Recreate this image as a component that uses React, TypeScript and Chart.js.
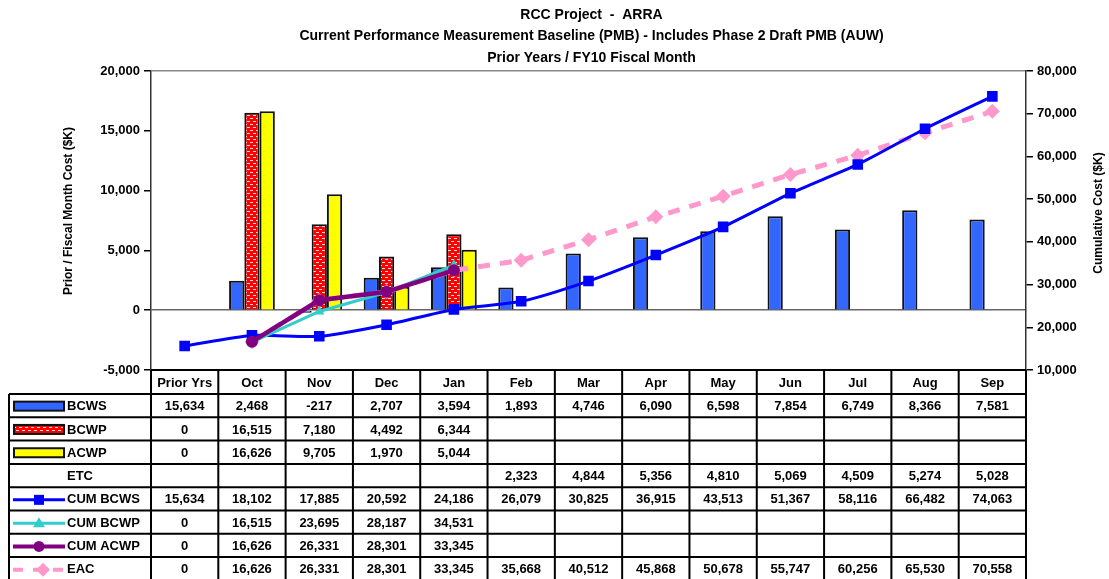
import React, { useEffect, useRef } from "react";
import { Chart, registerables } from "chart.js";

Chart.register(...registerables);

const titleLines = [
  "RCC Project  -  ARRA",
  "Current Performance Measurement Baseline (PMB) - Includes Phase 2 Draft PMB (AUW)",
  "Prior Years / FY10 Fiscal Month",
];
const leftAxisTitle = "Prior / Fiscal Month Cost ($K)";
const rightAxisTitle = "Cumulative Cost ($K)";

const categories = ["Prior Yrs", "Oct", "Nov", "Dec", "Jan", "Feb", "Mar", "Apr", "May", "Jun", "Jul", "Aug", "Sep"];
const bcws = [15634, 2468, -217, 2707, 3594, 1893, 4746, 6090, 6598, 7854, 6749, 8366, 7581];
const bcwp = [0, 16515, 7180, 4492, 6344, null, null, null, null, null, null, null, null];
const acwp = [0, 16626, 9705, 1970, 5044, null, null, null, null, null, null, null, null];
const etc = [null, null, null, null, null, 2323, 4844, 5356, 4810, 5069, 4509, 5274, 5028];
const cumBcws = [15634, 18102, 17885, 20592, 24186, 26079, 30825, 36915, 43513, 51367, 58116, 66482, 74063];
const cumBcwp = [0, 16515, 23695, 28187, 34531, null, null, null, null, null, null, null, null];
const cumAcwp = [0, 16626, 26331, 28301, 33345, null, null, null, null, null, null, null, null];
const eac = [0, 16626, 26331, 28301, 33345, 35668, 40512, 45868, 50678, 55747, 60256, 65530, 70558];

const leftMin = -5000, leftMax = 20000, leftStep = 5000;
const rightMin = 10000, rightMax = 80000, rightStep = 10000;

const FONT = '"Liberation Sans", Arial, sans-serif';
const C_BCWS = "#3366FF";
const C_BCWP = "#FF0000";
const C_ACWP = "#FFFF00";
const C_CBCWS = "#0000FF";
const C_CBCWP = "#33CCCC";
const C_CACWP = "#800080";
const C_EAC = "#FF99CC";

// Prior Yrs column is shown only in the table
const plotted = (arr: (number | null)[]) => arr.map((v, i) => (i === 0 ? null : v));
const fmt = (v: number | null) => (v === null || v === undefined ? "" : v.toLocaleString("en-US"));

function makePattern(): CanvasPattern | string {
  const c = document.createElement("canvas");
  c.width = 6;
  c.height = 6;
  const g = c.getContext("2d");
  if (!g) return C_BCWP;
  g.fillStyle = C_BCWP;
  g.fillRect(0, 0, 6, 6);
  g.fillStyle = "#FFE0E0";
  g.fillRect(1, 1, 3, 1);
  g.fillRect(4, 4, 2, 1);
  g.fillRect(0, 4, 1, 1);
  const p = g.createPattern(c, "repeat");
  return p || C_BCWP;
}

export default function App() {
  const ref = useRef<HTMLCanvasElement | null>(null);

  useEffect(() => {
    document.body.style.margin = "0";
    document.body.style.overflow = "hidden";
    const canvas = ref.current;
    if (!canvas) return;
    const pattern = makePattern();

    const drawMarker = (ctx: CanvasRenderingContext2D, kind: string, x: number, y: number, color: string) => {
      ctx.save();
      ctx.fillStyle = color;
      ctx.beginPath();
      if (kind === "rect") {
        ctx.rect(x - 5, y - 5, 10, 10);
      } else if (kind === "triangle") {
        ctx.moveTo(x, y - 6);
        ctx.lineTo(x + 6, y + 4);
        ctx.lineTo(x - 6, y + 4);
        ctx.closePath();
      } else if (kind === "circle") {
        ctx.arc(x, y, 5.5, 0, Math.PI * 2);
      } else if (kind === "diamond") {
        ctx.moveTo(x, y - 7);
        ctx.lineTo(x + 7, y);
        ctx.lineTo(x, y + 7);
        ctx.lineTo(x - 7, y);
        ctx.closePath();
      }
      ctx.fill();
      ctx.restore();
    };

    const overlay = {
      id: "overlay",
      afterDraw(chart: any) {
        const ctx: CanvasRenderingContext2D = chart.ctx;
        const area = chart.chartArea;
        ctx.save();
        // titles
        ctx.fillStyle = "#000";
        ctx.textAlign = "center";
        ctx.textBaseline = "middle";
        ctx.font = `bold 14px ${FONT}`;
        const cx = (area.left + area.right) / 2 + 3;
        const ys = [15, 36.5, 58];
        titleLines.forEach((t, i) => ctx.fillText(t, cx, ys[i]));

        // axis titles
        ctx.font = `bold 12px ${FONT}`;
        ctx.save();
        ctx.translate(69, 211);
        ctx.rotate(-Math.PI / 2);
        ctx.fillText(leftAxisTitle, 0, 0);
        ctx.restore();
        ctx.save();
        ctx.translate(1099, 213);
        ctx.rotate(-Math.PI / 2);
        ctx.fillText(rightAxisTitle, 0, 0);
        ctx.restore();

        // table
        const n = categories.length;
        const colW = (area.right - area.left) / n;
        const top = area.bottom;
        const headH = 24;
        const rowH = 23.3;
        const tLeft = 9;
        const rows: { label: string; values: (number | null)[]; swatch: string }[] = [
          { label: "BCWS", values: bcws, swatch: "barBlue" },
          { label: "BCWP", values: bcwp, swatch: "barRed" },
          { label: "ACWP", values: acwp, swatch: "barYellow" },
          { label: "ETC", values: etc, swatch: "none" },
          { label: "CUM BCWS", values: cumBcws, swatch: "lineBlue" },
          { label: "CUM BCWP", values: cumBcwp, swatch: "lineTeal" },
          { label: "CUM ACWP", values: cumAcwp, swatch: "linePurple" },
          { label: "EAC", values: eac, swatch: "linePink" },
        ];
        const dataTop = top + headH;
        const bottom = dataTop + rows.length * rowH;

        ctx.font = `bold 13px ${FONT}`;
        ctx.textAlign = "center";
        ctx.textBaseline = "middle";
        categories.forEach((c, i) => {
          ctx.fillText(c, chart.scales.x.getPixelForValue(i), top + headH / 2 + 1);
        });
        rows.forEach((r, ri) => {
          const y = dataTop + ri * rowH + rowH / 2 + 1;
          r.values.forEach((v, i) => {
            const s = fmt(v);
            if (s) ctx.fillText(s, chart.scales.x.getPixelForValue(i), y);
          });
        });
        ctx.textAlign = "left";
        rows.forEach((r, ri) => {
          const y = dataTop + ri * rowH + rowH / 2;
          ctx.fillStyle = "#000";
          ctx.fillText(r.label, 67, y + 1);
          const sx = 14, sw = 50;
          if (r.swatch.startsWith("bar")) {
            ctx.fillStyle = r.swatch === "barBlue" ? C_BCWS : r.swatch === "barRed" ? (pattern as any) : C_ACWP;
            ctx.fillRect(sx, y - 4, sw, 9);
            ctx.strokeStyle = "#111";
            ctx.lineWidth = 2;
            ctx.strokeRect(sx, y - 4, sw, 9);
          } else if (r.swatch.startsWith("line")) {
            const col = r.swatch === "lineBlue" ? C_CBCWS : r.swatch === "lineTeal" ? C_CBCWP : r.swatch === "linePurple" ? C_CACWP : C_EAC;
            ctx.save();
            ctx.strokeStyle = col;
            ctx.lineWidth = r.swatch === "linePurple" || r.swatch === "linePink" ? 4 : 3;
            if (r.swatch === "linePink") ctx.setLineDash([10, 10]);
            ctx.beginPath();
            ctx.moveTo(13, y + 1);
            ctx.lineTo(65, y + 1);
            ctx.stroke();
            ctx.restore();
            const kind = r.swatch === "lineBlue" ? "rect" : r.swatch === "lineTeal" ? "triangle" : r.swatch === "linePurple" ? "circle" : "diamond";
            drawMarker(ctx, kind, r.swatch === "linePink" ? 43 : 39, y + 1, col);
          }
        });

        ctx.strokeStyle = "#000";
        ctx.lineWidth = 2;
        ctx.beginPath();
        ctx.moveTo(area.left, top);
        ctx.lineTo(area.right, top);
        for (let i = 0; i <= n; i++) {
          const x = area.left + i * colW;
          ctx.moveTo(x, top);
          ctx.lineTo(x, bottom);
        }
        for (let r = 0; r <= rows.length; r++) {
          const y = dataTop + r * rowH;
          ctx.moveTo(tLeft, y);
          ctx.lineTo(area.right, y);
        }
        ctx.moveTo(tLeft, dataTop);
        ctx.lineTo(tLeft, bottom);
        ctx.stroke();
        ctx.restore();
      },
    };

    const lineCommon = {
      type: "line" as const,
      yAxisID: "y1",
      fill: false,
      spanGaps: false,
    };

    const barCommon = {
      type: "bar" as const,
      borderColor: "#111",
      borderWidth: 2,
      yAxisID: "y",
      order: 10,
      categoryPercentage: 0.68,
      barPercentage: 1,
    };

    const chart = new Chart(canvas, {
      type: "bar",
      data: {
        labels: categories,
        datasets: [
          { ...barCommon, label: "BCWS", data: plotted(bcws), backgroundColor: C_BCWS },
          { ...barCommon, label: "BCWP", data: plotted(bcwp), backgroundColor: pattern as any },
          { ...barCommon, label: "ACWP", data: plotted(acwp), backgroundColor: C_ACWP },
          {
            ...lineCommon,
            label: "EAC",
            data: plotted(eac),
            borderColor: C_EAC,
            backgroundColor: C_EAC,
            borderWidth: 5,
            borderDash: [12, 10],
            pointStyle: "rectRot",
            pointRadius: 7.5,
            pointBorderWidth: 0,
            tension: 0,
            order: 5,
          },
          {
            ...lineCommon,
            label: "CUM BCWS",
            data: cumBcws,
            borderColor: C_CBCWS,
            backgroundColor: C_CBCWS,
            borderWidth: 3,
            pointStyle: "rect",
            pointRadius: 7.5,
            pointBorderWidth: 0,
            tension: 0.25,
            order: 4,
          },
          {
            ...lineCommon,
            label: "CUM BCWP",
            data: plotted(cumBcwp),
            borderColor: C_CBCWP,
            backgroundColor: C_CBCWP,
            borderWidth: 3,
            pointStyle: "triangle",
            pointRadius: 6,
            pointBorderWidth: 0,
            tension: 0,
            order: 3,
          },
          {
            ...lineCommon,
            label: "CUM ACWP",
            data: plotted(cumAcwp),
            borderColor: C_CACWP,
            backgroundColor: C_CACWP,
            borderWidth: 4.5,
            pointStyle: "circle",
            pointRadius: 6,
            pointBorderWidth: 0,
            tension: 0,
            order: 2,
          },
        ] as any,
      },
      options: {
        responsive: false,
        animation: false,
        devicePixelRatio: 1,
        layout: { padding: { top: 71, bottom: 209, left: 0, right: 0 } },
        plugins: {
          legend: { display: false },
          title: { display: false },
          tooltip: { enabled: false },
        },
        scales: {
          x: { display: false, offset: true, grid: { offset: true } },
          y: {
            position: "left",
            min: leftMin,
            max: leftMax,
            ticks: {
              stepSize: leftStep,
              color: "#000",
              padding: 4,
              font: { family: FONT, size: 13, weight: "bold" },
              callback: (v: any) => Number(v).toLocaleString("en-US"),
            },
            grid: {
              color: (c: any) => (c.tick && c.tick.value === 0 ? "#666" : c.tick && c.tick.value === leftMax ? "#888" : "rgba(0,0,0,0)"),
              lineWidth: 1.5,
              tickColor: "#000",
              tickLength: 7,
            },
            border: { display: true, color: "#333", width: 1.5 },
            afterFit: (s: any) => {
              s.width = 151;
            },
          },
          y1: {
            position: "right",
            min: rightMin,
            max: rightMax,
            ticks: {
              stepSize: rightStep,
              color: "#000",
              padding: 4,
              font: { family: FONT, size: 13, weight: "bold" },
              callback: (v: any) => Number(v).toLocaleString("en-US"),
            },
            grid: { drawOnChartArea: false, tickColor: "#000", tickLength: 7, lineWidth: 1.5 },
            border: { display: true, color: "#333", width: 1.5 },
            afterFit: (s: any) => {
              s.width = 83;
            },
          },
        },
      } as any,
      plugins: [overlay],
    });

    return () => chart.destroy();
  }, []);

  return <canvas ref={ref} width={1109} height={579} style={{ display: "block", width: 1109, height: 579 }} />;
}
